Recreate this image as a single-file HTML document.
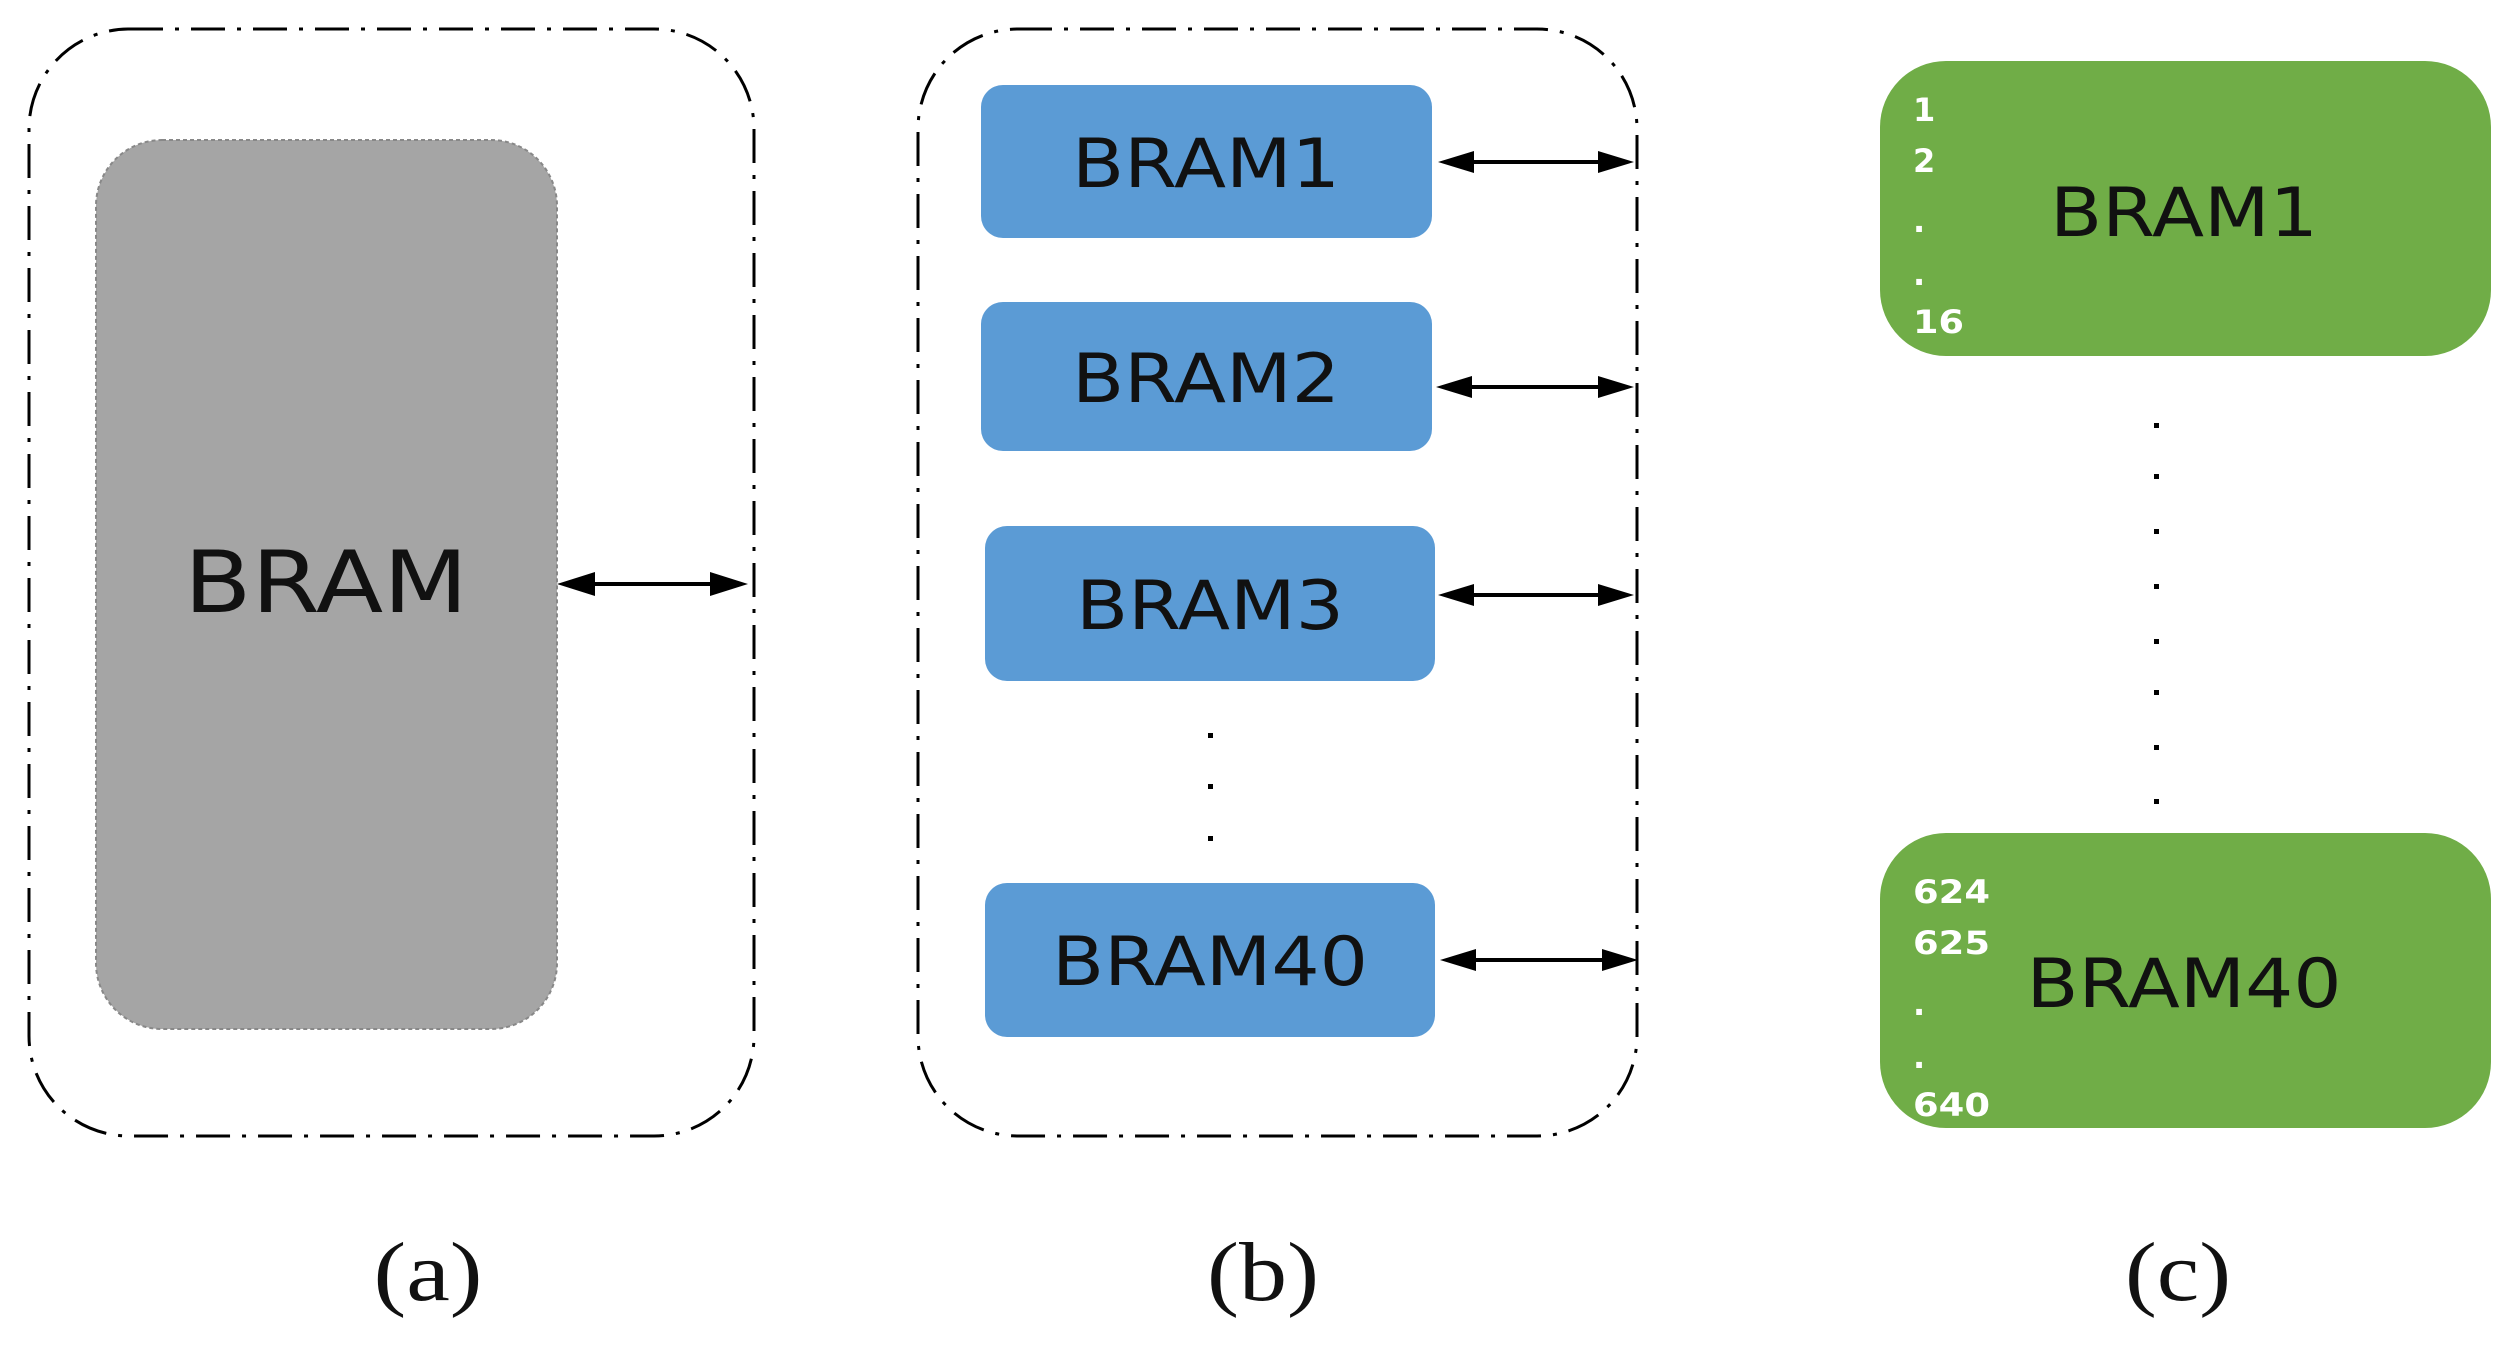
<!DOCTYPE html>
<html><head><meta charset="utf-8"><style>
html,body{margin:0;padding:0;background:#fff;}
svg{display:block;}
</style></head><body>
<svg width="2516" height="1349" viewBox="0 0 2516 1349" xmlns="http://www.w3.org/2000/svg">
<g fill="none" stroke="#000" stroke-width="3" stroke-dasharray="34 12 4 12">
<rect x="29" y="29" width="725" height="1107" rx="100" ry="100"/>
<rect x="918" y="29" width="719" height="1107" rx="100" ry="100"/>
</g>
<rect x="96" y="140" width="461" height="889" rx="66" fill="#a5a5a5" stroke="#888" stroke-width="2" stroke-dasharray="4 3"/>
<g font-family="DejaVu Sans, sans-serif" fill="#111" text-anchor="middle" lengthAdjust="spacingAndGlyphs">
<text x="326" y="612" font-size="86" textLength="284" lengthAdjust="spacingAndGlyphs">BRAM</text>
</g>
<g fill="#5b9bd5">
<rect x="981" y="85" width="451" height="153" rx="22"/>
<rect x="981" y="302" width="451" height="149" rx="22"/>
<rect x="985" y="526" width="450" height="155" rx="22"/>
<rect x="985" y="883" width="450" height="154" rx="22"/>
</g>
<g font-family="DejaVu Sans, sans-serif" font-size="68" fill="#111" text-anchor="middle">
<text x="1206" y="187" textLength="268" lengthAdjust="spacingAndGlyphs">BRAM1</text>
<text x="1206" y="402" textLength="268" lengthAdjust="spacingAndGlyphs">BRAM2</text>
<text x="1210" y="629" textLength="268" lengthAdjust="spacingAndGlyphs">BRAM3</text>
<text x="1210" y="985" textLength="316" lengthAdjust="spacingAndGlyphs">BRAM40</text>
</g>
<g fill="#000">
<rect x="1208" y="733" width="5" height="5"/>
<rect x="1208" y="784" width="5" height="5"/>
<rect x="1208" y="836" width="5" height="5"/>
</g>
<g stroke="#000" stroke-width="4">
<line x1="575" y1="584" x2="730" y2="584"/>
<line x1="1458" y1="162" x2="1614" y2="162"/>
<line x1="1456" y1="387" x2="1614" y2="387"/>
<line x1="1458" y1="595" x2="1614" y2="595"/>
<line x1="1460" y1="960" x2="1618" y2="960"/>
</g>
<g fill="#000">
<polygon points="557,584 595,572 595,596"/>
<polygon points="748,584 710,572 710,596"/>
<polygon points="1438,162 1474,151 1474,173"/>
<polygon points="1634,162 1598,151 1598,173"/>
<polygon points="1436,387 1472,376 1472,398"/>
<polygon points="1634,387 1598,376 1598,398"/>
<polygon points="1438,595 1474,584 1474,606"/>
<polygon points="1634,595 1598,584 1598,606"/>
<polygon points="1440,960 1476,949 1476,971"/>
<polygon points="1638,960 1602,949 1602,971"/>
</g>
<g fill="#70ad47">
<rect x="1880" y="61" width="611" height="295" rx="66"/>
<rect x="1880" y="833" width="611" height="295" rx="66"/>
</g>
<g font-family="DejaVu Sans, sans-serif" font-size="68" fill="#111" text-anchor="middle">
<text x="2184" y="236" textLength="268" lengthAdjust="spacingAndGlyphs">BRAM1</text>
<text x="2184" y="1007" textLength="315" lengthAdjust="spacingAndGlyphs">BRAM40</text>
</g>
<g font-family="DejaVu Sans, sans-serif" font-size="32" font-weight="bold" fill="#fff">
<text x="1913" y="121">1</text>
<text x="1913" y="172">2</text>
<text x="1913" y="232">.</text>
<text x="1913" y="285">.</text>
<text x="1913" y="333" textLength="51" lengthAdjust="spacingAndGlyphs">16</text>
<text x="1913" y="903" textLength="77" lengthAdjust="spacingAndGlyphs">624</text>
<text x="1913" y="954" textLength="77" lengthAdjust="spacingAndGlyphs">625</text>
<text x="1913" y="1015">.</text>
<text x="1913" y="1068">.</text>
<text x="1913" y="1116" textLength="77" lengthAdjust="spacingAndGlyphs">640</text>
</g>
<g fill="#000">
<rect x="2154" y="423" width="5" height="5"/>
<rect x="2154" y="474" width="5" height="5"/>
<rect x="2154" y="529" width="5" height="5"/>
<rect x="2154" y="584" width="5" height="5"/>
<rect x="2154" y="639" width="5" height="5"/>
<rect x="2154" y="690" width="5" height="5"/>
<rect x="2154" y="745" width="5" height="5"/>
<rect x="2154" y="799" width="5" height="5"/>
</g>
<g font-family="Liberation Serif, serif" font-size="84" fill="#111" text-anchor="middle">
<text x="428" y="1300" textLength="109" lengthAdjust="spacingAndGlyphs">(a)</text>
<text x="1263" y="1300" textLength="112" lengthAdjust="spacingAndGlyphs">(b)</text>
<text x="2178" y="1300" textLength="106" lengthAdjust="spacingAndGlyphs">(c)</text>
</g>
</svg>
</body></html>
